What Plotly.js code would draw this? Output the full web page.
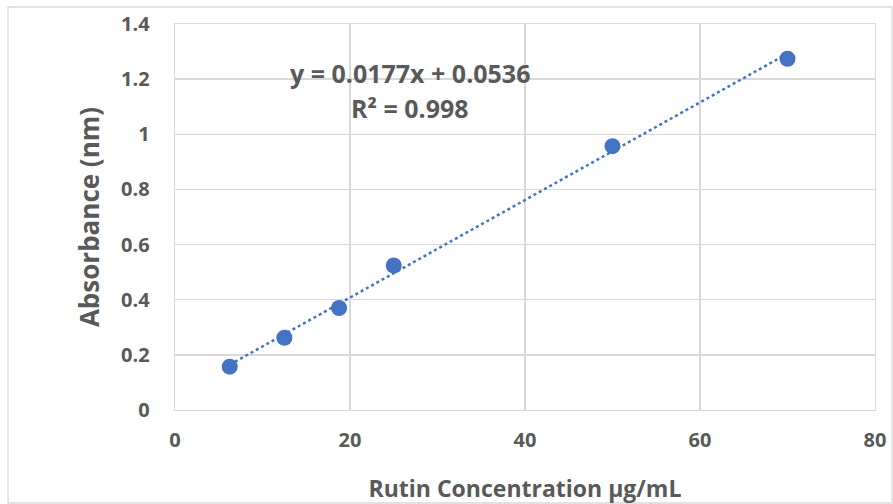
<!DOCTYPE html>
<html><head><meta charset="utf-8">
<script src="https://cdn.plot.ly/plotly-3.0.1.min.js"></script>
<style>html,body{margin:0;padding:0;background:#fff}#c{width:893px;height:504px}</style>
</head><body><div id="c"></div>
<script>
const concentration = [6.25, 12.5, 18.75, 25, 50, 70];
const absorbance = [0.157, 0.262, 0.370, 0.524, 0.957, 1.274];
const slope = 0.0177;
const intercept = 0.0536;
const rSquared = 0.998;
const xTicks = [0, 20, 40, 60, 80];
const yTicks = [0, 0.2, 0.4, 0.6, 0.8, 1, 1.2, 1.4];

const fitX = [Math.min(...concentration), Math.max(...concentration)];
const fitY = fitX.map(x => slope * x + intercept);
const font = "Open Sans, Liberation Sans, sans-serif";
const grey = "#595959";

const traces = [
  {x: fitX, y: fitY, mode: "lines", line: {color: "#4472C4", width: 2.5, dash: "dot"}, hoverinfo: "skip"},
  {x: concentration, y: absorbance, mode: "markers", marker: {color: "#4472C4", size: 16}}
];
const layout = {
  width: 893, height: 504,
  margin: {l: 175, r: 18, t: 24, b: 94},
  showlegend: false,
  paper_bgcolor: "#fff", plot_bgcolor: "#fff",
  font: {family: font, color: grey},
  xaxis: {range: [0, 80], tickvals: xTicks, ticktext: xTicks.map(v => "<b>" + v + "</b>"),
    showgrid: true, gridcolor: "#d9d9d9", gridwidth: 1.3, zeroline: false,
    showline: true, linecolor: "#d9d9d9", linewidth: 1.3, mirror: true,
    ticks: "", ticklen: 0, ticklabelstandoff: 12, tickfont: {size: 20, family: font, color: grey},
    title: {text: "<b>Rutin Concentration µg/mL</b>", font: {size: 23, color: grey}, standoff: 28}},
  yaxis: {range: [0, 1.4], tickvals: yTicks, ticktext: yTicks.map(v => "<b>" + v + "</b>"),
    showgrid: true, gridcolor: "#d9d9d9", gridwidth: 1.3, zeroline: false,
    showline: true, linecolor: "#d9d9d9", linewidth: 1.3, mirror: true,
    ticks: "", ticklen: 0, ticklabelstandoff: 20, tickfont: {size: 20, family: font, color: grey},
    title: {text: "<b>Absorbance (nm)</b>", font: {size: 26, color: grey}, standoff: 14}},
  annotations: [
    {xref: "paper", yref: "paper", x: (410-175)/700, y: (410-73)/386, xanchor: "center", yanchor: "middle",
     showarrow: false, text: "<b>y = " + slope + "x + " + intercept + "</b>", font: {size: 25, color: grey, family: font}},
    {xref: "paper", yref: "paper", x: (410-175)/700, y: (410-108)/386, xanchor: "center", yanchor: "middle",
     showarrow: false, text: "<b>R² = " + rSquared + "</b>", font: {size: 25, color: grey, family: font}}
  ],
  shapes: [
    {type: "rect", xref: "paper", yref: "paper", x0: -167/700, x1: 1 + 17/700, y0: -93/386, y1: 1 + 17/386,
     line: {color: "#d9d9d9", width: 1.3}, fillcolor: "rgba(0,0,0,0)", layer: "below"}
  ]
};
Plotly.newPlot("c", traces, layout, {displayModeBar: false, staticPlot: true});
</script></body></html>
